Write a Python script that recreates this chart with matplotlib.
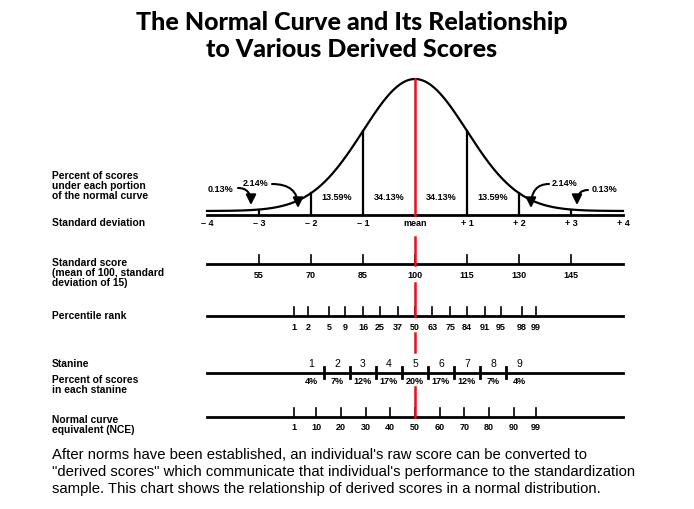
"""
The normal curve and the derived scores that line up under it.
"""

from statistics import NormalDist

import matplotlib.pyplot as plt
import numpy as np


# Standard deviation axis under the curve
sd_values = [-4, -3, -2, -1, 0, 1, 2, 3, 4]
sd_labels = ["\u2013 4", "\u2013 3", "\u2013 2", "\u2013 1", "mean", "+ 1", "+ 2", "+ 3", "+ 4"]

# Percent of scores under each portion of the curve
band_centers = [-1.5, -0.5, 0.5, 1.5]
band_pct = ["13.59%", "34.13%", "34.13%", "13.59%"]
tail_pct = ["0.13%", "2.14%", "2.14%", "0.13%"]

# Derived score scales
standard_scores = [55, 70, 85, 100, 115, 130, 145]
percentile_ranks = [1, 2, 5, 9, 16, 25, 37, 50, 63, 75, 84, 91, 95, 98, 99]
stanines = [1, 2, 3, 4, 5, 6, 7, 8, 9]
stanine_pct = [4, 7, 12, 17, 20, 17, 12, 7, 4]
nce_scores = [1, 10, 20, 30, 40, 50, 60, 70, 80, 90, 99]

W, H = 694, 509
CX, UNIT = 415, 52          # pixel of the mean, pixels per SD
BASE, TAIL, PEAK = 215, 4, 132

ROW_SS, ROW_PR, ROW_ST, ROW_NCE = 264, 316, 373, 417

NARROW = ["Liberation Sans Narrow", "Liberation Sans", "DejaVu Sans"]
RED = "#e8101a"


def curve_y(z):
    return BASE - TAIL - PEAK * np.exp(-np.asarray(z) ** 2 / 2)


def zpx(px):
    return (px - CX) / UNIT


def fig_text(fig, x, y, s, **kw):
    fig.text(x / W, 1 - y / H, s, **kw)


fig = plt.figure(figsize=(W / 100, H / 100), dpi=100)
ax = fig.add_axes([0, 0, 1, 1])
ax.set_xlim(zpx(0), zpx(W))
ax.set_ylim(H, 0)
ax.axis("off")

# title
fig_text(fig, 352, 36, "The Normal Curve and Its Relationship\nto Various Derived Scores",
         ha="center", va="center", fontsize=18, fontweight="black",
         family=["Lato", "DejaVu Sans"], linespacing=1.2)

# normal curve
z = np.linspace(-4, 4, 400)
ax.plot(z, curve_y(z), color="black", lw=1.6)
ax.plot([-4, 4], [BASE, BASE], color="black", lw=2)
for v in sd_values[1:-1]:
    if v == 0:
        continue
    ax.plot([v, v], [BASE, curve_y(v)], color="black", lw=1.6)
ax.plot([0, 0], [curve_y(0), BASE], color=RED, lw=1.8, zorder=3)

for v, lab in zip(sd_values, sd_labels):
    ax.text(v, BASE + 9, lab, ha="center", va="center", fontsize=6.5,
            fontweight="bold", family=NARROW)

for c, lab in zip(band_centers, band_pct):
    ax.text(c, 198, lab, ha="center", va="center", fontsize=6.5,
            fontweight="bold", family=NARROW)

# tail labels with curved arrows
arrow = dict(arrowstyle="-|>,head_length=0.6,head_width=0.3", color="black",
             lw=1.5, shrinkA=0, shrinkB=0, connectionstyle="angle3,angleA=0,angleB=90")
tails = [
    (tail_pct[0], (221, 189), (238, 188), (251, 205)),
    (tail_pct[1], (256, 183), (272, 184), (298, 208)),
    (tail_pct[2], (565, 183), (549, 184), (531, 208)),
    (tail_pct[3], (604, 190), (588, 190), (577, 205)),
]
for lab, (tx, ty), (sx, sy), (ex, ey) in tails:
    ax.text(zpx(tx), ty, lab, ha="center", va="center", fontsize=6.5,
            fontweight="bold", family=NARROW)
    ax.annotate("", xy=(zpx(ex), ey), xytext=(zpx(sx), sy), arrowprops=arrow)

# standard score row
ax.plot([-4, 4], [ROW_SS, ROW_SS], color="black", lw=2)
for s in standard_scores:
    zz = (s - 100) / 15
    ax.plot([zz, zz], [ROW_SS - 9, ROW_SS], color="black", lw=1.2)
    ax.text(zz, ROW_SS + 12, str(s), ha="center", va="center", fontsize=6.5,
            fontweight="bold", family=NARROW)

# percentile rank row
nd = NormalDist()
ax.plot([-4, 4], [ROW_PR, ROW_PR], color="black", lw=2)
for p in percentile_ranks:
    zz = nd.inv_cdf(p / 100)
    ax.plot([zz, zz], [ROW_PR - 9, ROW_PR], color="black", lw=1.2)
    ax.text(zz, ROW_PR + 11, str(p), ha="center", va="center", fontsize=6.5,
            fontweight="bold", family=NARROW)

# stanine row
ax.plot([-4, 4], [ROW_ST, ROW_ST], color="black", lw=2)
for s in stanines[:-1]:
    zz = (s - 5) / 2 + 0.25
    ax.plot([zz, zz], [ROW_ST - 6, ROW_ST + 5], color="black", lw=2)
for s, pct in zip(stanines, stanine_pct):
    zz = (s - 5) / 2
    ax.text(zz, ROW_ST - 9, str(s), ha="center", va="center", fontsize=7.5,
            family=NARROW)
    ax.text(zz, ROW_ST + 9, f"{pct}%", ha="center", va="center", fontsize=6.5,
            fontweight="bold", family=NARROW)

# NCE row
ax.plot([-4, 4], [ROW_NCE, ROW_NCE], color="black", lw=2)
for n in nce_scores:
    zz = (n - 50) / 21.06
    ax.plot([zz, zz], [ROW_NCE - 9, ROW_NCE], color="black", lw=1.2)
    ax.text(zz, ROW_NCE + 10, str(n), ha="center", va="center", fontsize=6.5,
            fontweight="bold", family=NARROW)

# red mean line through the scales, broken around the labels
for top, bottom in [(BASE + 22, ROW_SS + 1), (ROW_SS + 19, ROW_PR),
                    (ROW_PR + 17, ROW_ST - 21), (ROW_ST + 14, ROW_NCE)]:
    ax.plot([0, 0], [top, bottom], color=RED, lw=1.8, zorder=3)

# row labels on the left
left = dict(ha="left", va="center", fontsize=7.4, fontweight="bold",
            family=NARROW, linespacing=1.05)
fig_text(fig, 52, 186, "Percent of scores\nunder each portion\nof the normal curve", **left)
fig_text(fig, 52, 223, "Standard deviation", **left)
fig_text(fig, 52, 273, "Standard score\n(mean of 100, standard\ndeviation of 15)", **left)
fig_text(fig, 52, 316, "Percentile rank", **left)
fig_text(fig, 52, 364, "Stanine", **left)
fig_text(fig, 52, 385, "Percent of scores\nin each stanine", **left)
fig_text(fig, 52, 425, "Normal curve\nequivalent (NCE)", **left)

# caption
fig_text(fig, 52, 472,
         "After norms have been established, an individual's raw score can be converted to\n"
         "\"derived scores\" which communicate that individual's performance to the standardization\n"
         "sample. This chart shows the relationship of derived scores in a normal distribution.",
         ha="left", va="center", fontsize=10.7, family=["Liberation Sans", "DejaVu Sans"],
         linespacing=1.25)

fig.savefig("out.png", dpi=100)
